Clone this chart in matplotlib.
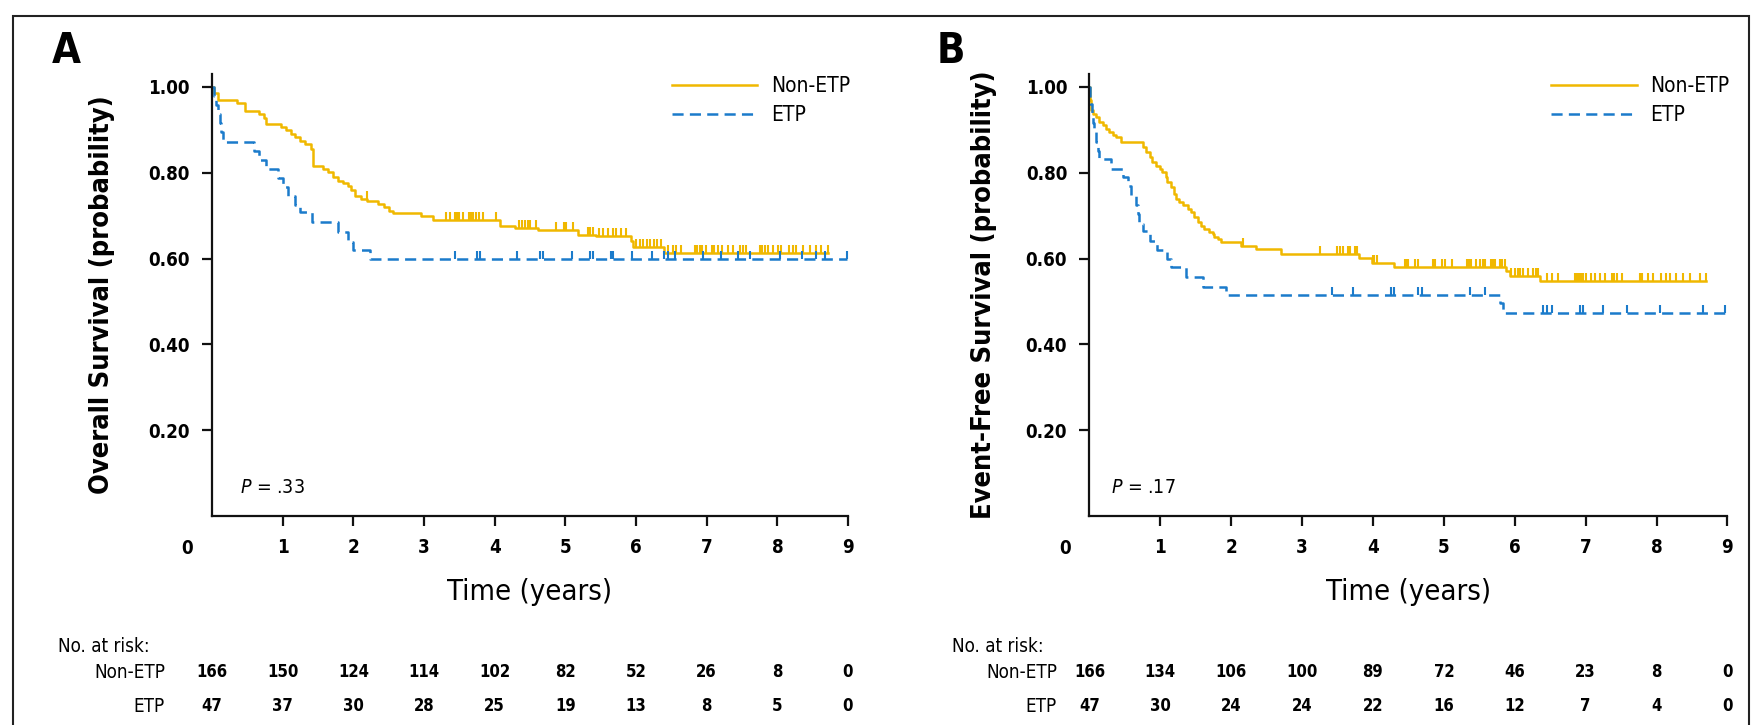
import numpy as np
import matplotlib
matplotlib.use("Agg")
from matplotlib import pyplot as plt
from matplotlib import transforms
from matplotlib import font_manager as fm
from matplotlib.patches import Rectangle

# look for a condensed sans face, the original uses a condensed Helvetica
narrow = None
for f in fm.fontManager.ttflist:
    if f.stretch in ('condensed', 'semi-condensed') or 'Narrow' in f.name or 'Condensed' in f.name:
        if f.style == 'normal':
            narrow = f
            break

if narrow is not None:
    plt.rcParams['font.family'] = [narrow.name, 'DejaVu Sans']
    plt.rcParams['font.stretch'] = narrow.stretch
    NARROW = True
else:
    plt.rcParams['font.family'] = ['Liberation Sans', 'DejaVu Sans']
    NARROW = False
plt.rcParams['mathtext.fontset'] = 'custom'
plt.rcParams['mathtext.it'] = plt.rcParams['font.family'][0] + ':italic'
plt.rcParams['mathtext.rm'] = plt.rcParams['font.family'][0]
plt.rcParams['lines.scale_dashes'] = False

YELLOW = '#F0B800'
BLUE = '#1B7BCB'

# ---- panel A: overall survival (step times and survival after each step)
os_non_t = [0, 0.03, 0.08, 0.35, 0.46, 0.67, 0.74, 0.77, 0.98, 1.05, 1.12, 1.17, 1.24, 1.31,
            1.40, 1.43, 1.57, 1.64, 1.71, 1.78, 1.85, 1.92, 1.97, 2.02, 2.11, 2.20, 2.35, 2.44,
            2.51, 2.56, 2.96, 3.13, 4.07, 4.29, 4.62, 5.18, 5.43, 5.93, 5.96, 6.40]
os_non_s = [1.0, 0.985, 0.970, 0.963, 0.944, 0.936, 0.928, 0.914, 0.907, 0.899, 0.891, 0.883, 0.875, 0.868,
            0.855, 0.817, 0.809, 0.802, 0.790, 0.782, 0.776, 0.770, 0.761, 0.747, 0.739, 0.735, 0.728, 0.720,
            0.712, 0.706, 0.700, 0.691, 0.677, 0.672, 0.666, 0.656, 0.652, 0.641, 0.628, 0.614]
os_non_cens = [2.19, 3.31, 3.37, 3.44, 3.47, 3.50, 3.55, 3.63, 3.66, 3.69, 3.73, 3.78, 3.84, 4.02,
               4.35, 4.39, 4.43, 4.47, 4.50, 4.59, 4.87, 4.98, 5.01, 5.11, 5.32, 5.35, 5.39, 5.48,
               5.53, 5.60, 5.67, 5.72, 5.79, 5.86, 6.00, 6.05, 6.10, 6.15, 6.20, 6.25, 6.30, 6.36,
               6.45, 6.52, 6.57, 6.64, 6.83, 6.86, 6.90, 6.94, 6.99, 7.07, 7.11, 7.16, 7.21, 7.30,
               7.37, 7.47, 7.51, 7.56, 7.75, 7.79, 7.82, 7.87, 7.94, 8.01, 8.05, 8.17, 8.22, 8.27,
               8.36, 8.46, 8.55, 8.62, 8.71]

os_etp_t = [0, 0.03, 0.06, 0.09, 0.11, 0.13, 0.16, 0.60, 0.67, 0.77, 0.93, 1.00, 1.08, 1.17,
            1.24, 1.41, 1.78, 1.92, 2.00, 2.23]
os_etp_s = [1.0, 0.979, 0.957, 0.936, 0.915, 0.894, 0.872, 0.851, 0.830, 0.809, 0.787, 0.767, 0.747, 0.724,
            0.708, 0.685, 0.661, 0.638, 0.619, 0.599]
os_etp_cens = [3.44, 3.75, 3.79, 4.31, 4.64, 4.68, 5.10, 5.35, 5.39, 5.64, 5.68, 5.95, 6.22, 6.40,
               6.45, 6.55, 6.95, 7.20, 7.45, 7.62, 8.04, 8.35, 8.55, 8.68, 8.98]

# ---- panel B: event-free survival
efs_non_t = [0, 0.01, 0.02, 0.05, 0.09, 0.14, 0.19, 0.24, 0.28, 0.33, 0.38, 0.45, 0.75, 0.80,
             0.85, 0.89, 0.94, 0.99, 1.03, 1.08, 1.10, 1.15, 1.20, 1.22, 1.27, 1.32, 1.39, 1.43,
             1.48, 1.53, 1.58, 1.62, 1.69, 1.74, 1.76, 1.81, 1.86, 2.14, 2.35, 2.70, 3.81, 3.98,
             4.29, 5.88, 5.93, 6.35]
efs_non_s = [1.0, 0.97, 0.946, 0.938, 0.930, 0.918, 0.911, 0.903, 0.895, 0.887, 0.883, 0.872, 0.860, 0.848,
             0.837, 0.825, 0.817, 0.809, 0.802, 0.790, 0.778, 0.767, 0.751, 0.739, 0.731, 0.724, 0.716, 0.708,
             0.696, 0.685, 0.677, 0.669, 0.661, 0.658, 0.650, 0.646, 0.638, 0.630, 0.623, 0.611, 0.602, 0.590,
             0.581, 0.571, 0.559, 0.547]
efs_non_cens = [2.16, 3.25, 3.49, 3.53, 3.58, 3.65, 3.67, 3.74, 3.77, 4.00, 4.02, 4.05, 4.45, 4.48,
                4.50, 4.59, 4.64, 4.85, 4.87, 4.97, 5.01, 5.11, 5.32, 5.34, 5.36, 5.39, 5.46, 5.51,
                5.55, 5.58, 5.67, 5.70, 5.72, 5.79, 5.82, 5.86, 5.95, 6.00, 6.05, 6.08, 6.12, 6.19,
                6.26, 6.30, 6.33, 6.45, 6.52, 6.61, 6.85, 6.88, 6.90, 6.94, 6.97, 7.01, 7.08, 7.13,
                7.20, 7.27, 7.37, 7.40, 7.44, 7.51, 7.77, 7.79, 7.88, 7.95, 8.07, 8.14, 8.19, 8.28,
                8.37, 8.47, 8.61, 8.70]

efs_etp_t = [0, 0.01, 0.03, 0.05, 0.07, 0.09, 0.12, 0.14, 0.31, 0.47, 0.54, 0.59, 0.66, 0.68,
             0.70, 0.75, 0.85, 0.96, 1.10, 1.15, 1.36, 1.60, 1.93, 5.79, 5.84]
efs_etp_s = [1.0, 0.96, 0.936, 0.915, 0.894, 0.872, 0.851, 0.833, 0.809, 0.790, 0.770, 0.747, 0.725, 0.703,
             0.681, 0.664, 0.642, 0.619, 0.598, 0.580, 0.556, 0.533, 0.514, 0.497, 0.474]
efs_etp_cens = [3.42, 3.72, 4.26, 4.29, 4.64, 4.69, 5.37, 5.58, 6.40, 6.45, 6.52, 6.92, 6.97, 7.25,
                7.58, 8.05, 8.66, 8.96]

# ---- numbers at risk
risk_times = list(range(10))
os_risk_non = [166, 150, 124, 114, 102, 82, 52, 26, 8, 0]
os_risk_etp = [47, 37, 30, 28, 25, 19, 13, 8, 5, 0]
efs_risk_non = [166, 134, 106, 100, 89, 72, 46, 23, 8, 0]
efs_risk_etp = [47, 30, 24, 24, 22, 16, 12, 7, 4, 0]

# font sizes depend on whether a condensed face was found
if NARROW:
    FS_TICK, FS_XLAB, FS_YLAB, FS_LEG = 13.5, 21, 19.5, 15
    FS_RISK, FS_RLAB, FS_P = 12, 13.5, 14
else:
    FS_TICK, FS_XLAB, FS_YLAB, FS_LEG = 13, 22, 19.5, 14.5
    FS_RISK, FS_RLAB, FS_P = 12.5, 13, 15

W, H = 1752, 725
fig = plt.figure(figsize=(W / 100, H / 100), dpi=100)

# outer frame
fig.patches.append(Rectangle((13 / W, -0.1), (1749 - 13) / W, (H - 16) / H + 0.1,
                             transform=fig.transFigure, fill=False, lw=1.5, ec='#222222', clip_on=False))

cens_marker = [(0, 0), (0, 1)]


def km_curve(ax, t, s, cens, color, ls, label):
    t = np.asarray(t, float)
    s = np.asarray(s, float)
    cens = np.asarray(cens, float)
    t_end = max(t[-1], cens.max())
    tt = np.append(t, t_end)
    ss = np.append(s, s[-1])
    if ls == 'dash':
        line, = ax.step(tt, ss, where='post', color=color, lw=1.8, dashes=(8, 4.5), label=label)
    else:
        line, = ax.step(tt, ss, where='post', color=color, lw=1.8, label=label)
    idx = np.searchsorted(t, cens, side='right') - 1
    ax.plot(cens, s[idx], ls='none', marker=cens_marker, markersize=12,
            markeredgewidth=1.5, color=color)
    return line


def panel(left_px, right_px, letter, letter_px, ylabel, ylabel_pad, pval, pval_x, curves,
          risk_non, risk_etp, label_right_px, noatrisk_px):
    bottom_px, top_px = 516, 516 - 1.03 * 429
    ax = fig.add_axes([left_px / W, (H - bottom_px) / H, (right_px - left_px) / W,
                       (bottom_px - top_px) / H])
    handles = []
    for t, s, cens, color, ls, label in curves:
        handles.append(km_curve(ax, t, s, cens, color, ls, label))

    ax.set_xlim(0, 9)
    ax.set_ylim(0, 1.03)
    ax.spines['top'].set_visible(False)
    ax.spines['right'].set_visible(False)
    for sp in ('left', 'bottom'):
        ax.spines[sp].set_linewidth(1.6)
        ax.spines[sp].set_color('#111111')
    ax.set_xticks(range(1, 10))
    ax.set_yticks([0.2, 0.4, 0.6, 0.8, 1.0])
    ax.set_yticklabels(['%.2f' % v for v in [0.2, 0.4, 0.6, 0.8, 1.0]])
    ax.tick_params(axis='both', direction='out', length=7, width=1.6, color='#111111',
                   labelsize=FS_TICK, pad=9)
    for lab in ax.get_xticklabels() + ax.get_yticklabels():
        lab.set_fontweight('bold')
    # origin label, left of the y axis
    off = transforms.offset_copy(ax.transData, fig=fig, x=-24.5, y=0, units='dots')
    ax.text(0, -0.052, '0', transform=transforms.blended_transform_factory(off, ax.transAxes),
            ha='center', va='top', fontsize=FS_TICK, fontweight='bold')

    ax.set_xlabel('Time (years)', fontsize=FS_XLAB, labelpad=15)
    ax.set_ylabel(ylabel, fontsize=FS_YLAB, fontweight='bold', labelpad=ylabel_pad)

    ax.text(pval_x, 0.066, r'$P$ = ' + pval, fontsize=FS_P, va='center', ha='left')

    ax.legend(handles=handles, loc='upper right', bbox_to_anchor=(1.003, 0.995), frameon=False,
              fontsize=FS_LEG, handlelength=4.1, handletextpad=0.65, labelspacing=0.42,
              borderpad=0, borderaxespad=0)

    fig.text(letter_px / W, (H - 51) / H, letter, fontsize=30, fontweight='bold',
             ha='left', va='center')

    # number at risk table
    bt = transforms.blended_transform_factory(ax.transData, fig.transFigure)
    fig.text(noatrisk_px / W, (H - 647) / H, 'No. at risk:', fontsize=FS_RLAB, ha='left', va='center')
    fig.text(label_right_px / W, (H - 672) / H, 'Non-ETP', fontsize=FS_RLAB, ha='right', va='center')
    fig.text(label_right_px / W, (H - 706) / H, 'ETP', fontsize=FS_RLAB, ha='right', va='center')
    for x, n1, n2 in zip(risk_times, risk_non, risk_etp):
        ax.text(x, (H - 672) / H, str(n1), transform=bt, fontsize=FS_RISK, fontweight='bold',
                ha='center', va='center')
        ax.text(x, (H - 706) / H, str(n2), transform=bt, fontsize=FS_RISK, fontweight='bold',
                ha='center', va='center')
    return ax


panel(212, 848, 'A', 52, 'Overall Survival (probability)', 24, '.33', 0.40,
      [(os_non_t, os_non_s, os_non_cens, YELLOW, 'solid', 'Non-ETP'),
       (os_etp_t, os_etp_s, os_etp_cens, BLUE, 'dash', 'ETP')],
      os_risk_non, os_risk_etp, 165, 58)

panel(1089.4, 1727.4, 'B', 937, 'Event-Free Survival (probability)', 21, '.17', 0.31,
      [(efs_non_t, efs_non_s, efs_non_cens, YELLOW, 'solid', 'Non-ETP'),
       (efs_etp_t, efs_etp_s, efs_etp_cens, BLUE, 'dash', 'ETP')],
      efs_risk_non, efs_risk_etp, 1057, 952)

fig.savefig('out.png', dpi=100)
